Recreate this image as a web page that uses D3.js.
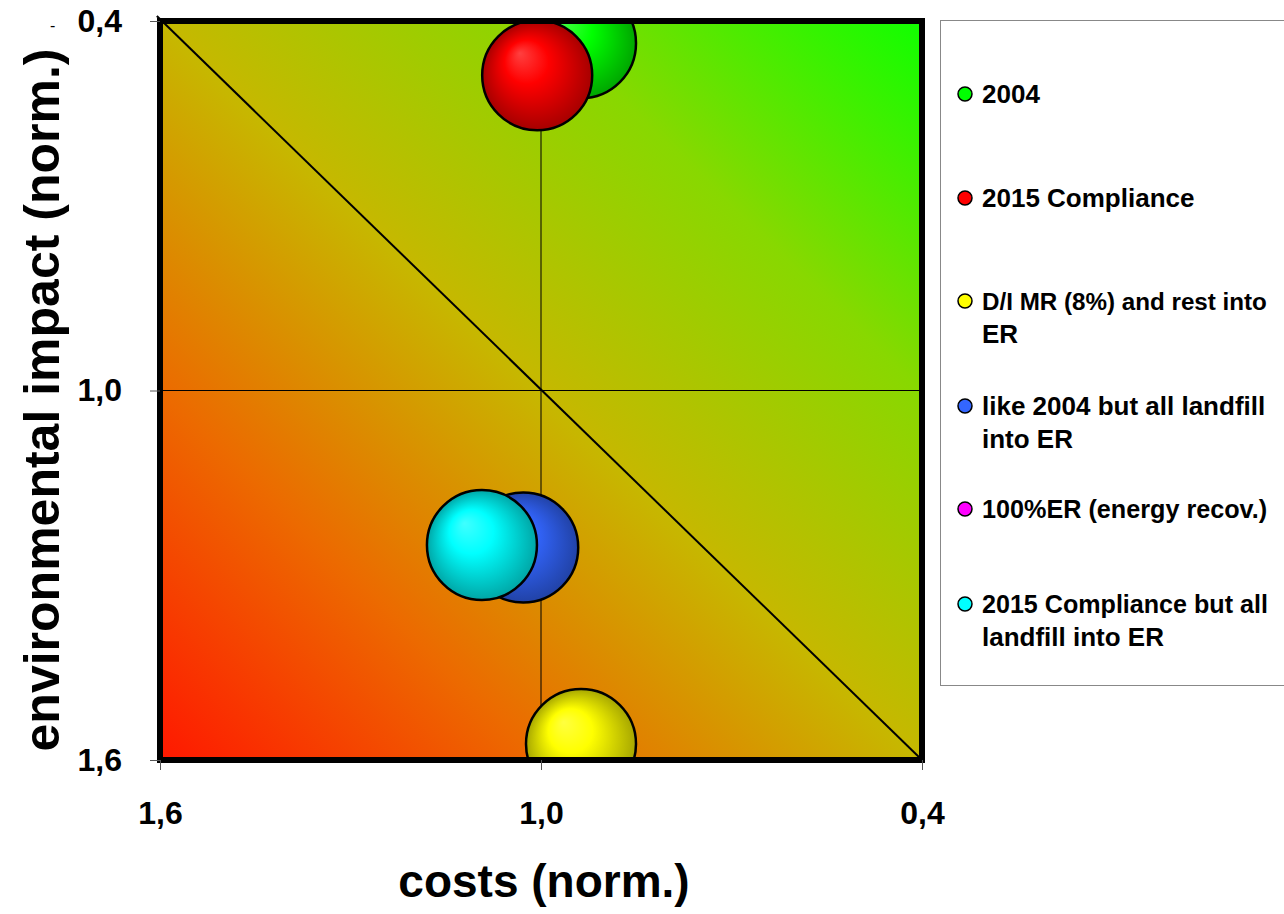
<!DOCTYPE html>
<html>
<head>
<meta charset="utf-8">
<script src="https://cdn.jsdelivr.net/npm/d3@7"></script>
<style>
  html, body { margin: 0; padding: 0; background: #fff; }
  svg { display: block; font-family: "Liberation Sans", Arial, sans-serif; }
</style>
</head>
<body>
<svg id="chart" width="1284" height="914"></svg>
<script>
// ---- data ----
const series = ["2004", "2015 Compliance", "D/I MR (8%) and rest into ER", "like 2004 but all landfill into ER", "100% ER (energy recov.)", "2015 Compliance but all landfill into ER"];
const legendLines = [["2004"], ["2015 Compliance"], ["D/I MR (8%) and rest into", "ER"], ["like 2004 but all landfill", "into ER"], ["100%ER (energy recov.)"], ["2015 Compliance but all", "landfill into ER"]];
const costs  = [0.937, 1.006, 0.937, 1.028, 0.93, 1.093];
const impact = [0.436, 0.488, 1.574, 1.255, 1.80, 1.251];
const sizes  = [1, 1, 1, 1, 1, 1];
const colors = ["#00ff00", "#ff0000", "#ffff00", "#3366ff", "#ff00ff", "#00ffff"];
const xTicks = [1.6, 1.0, 0.4];
const yTicks = [0.4, 1.0, 1.6];
const xTickLabels = ["1,6", "1,0", "0,4"];
const yTickLabels = ["0,4", "1,0", "1,6"];
const diagonal = [[1.605, 0.392], [0.4, 1.6]];

// ---- layout ----
const svg = d3.select("#chart");
const L = 160, R = 922, T = 21, B = 760;
const x = d3.scaleLinear().domain([1.6, 0.4]).range([L, R]);
const y = d3.scaleLinear().domain([0.4, 1.6]).range([T, B]);
const r = d3.scaleSqrt().domain([0, 1]).range([0, 55]);

const defs = svg.append("defs");
const bg = defs.append("linearGradient").attr("id", "bg")
  .attr("x1", 0).attr("y1", 1).attr("x2", 1).attr("y2", 0);
[[0, "#ff1800"], [0.25, "#ec6a00"], [0.5, "#c6b800"], [0.75, "#88d800"], [1, "#10ff00"]]
  .forEach(([o, c]) => bg.append("stop").attr("offset", o).attr("stop-color", c));

defs.append("clipPath").attr("id", "plotclip")
  .append("rect").attr("x", L).attr("y", T).attr("width", R - L).attr("height", B - T);

colors.forEach((c, i) => {
  const g = defs.append("radialGradient").attr("id", "bub" + i)
    .attr("cx", 0.5).attr("cy", 0.5).attr("r", 0.5)
    .attr("fx", 0.34).attr("fy", 0.3);
  const base = d3.color(c);
  g.append("stop").attr("offset", 0).attr("stop-color", d3.interpolateRgb(c, "#ffffff")(0.25));
  g.append("stop").attr("offset", 0.4).attr("stop-color", c);
  g.append("stop").attr("offset", 1).attr("stop-color", base.darker(1.2));
});

// plot background
svg.append("rect").attr("x", L).attr("y", T).attr("width", R - L).attr("height", B - T)
  .attr("fill", "url(#bg)");

// gridlines at 1.0
svg.append("line").attr("x1", x(1.0)).attr("x2", x(1.0)).attr("y1", T).attr("y2", B)
  .attr("stroke", "#000").attr("stroke-width", 1);
svg.append("line").attr("x1", L).attr("x2", R).attr("y1", y(1.0)).attr("y2", y(1.0))
  .attr("stroke", "#000").attr("stroke-width", 1);

// diagonal
svg.append("path").datum(diagonal)
  .attr("d", d3.line().x(d => x(d[0])).y(d => y(d[1])))
  .attr("stroke", "#000").attr("stroke-width", 2).attr("fill", "none");

// bubbles
const gB = svg.append("g").attr("clip-path", "url(#plotclip)");
series.forEach((s, i) => {
  gB.append("circle")
    .attr("cx", x(costs[i])).attr("cy", y(impact[i])).attr("r", r(sizes[i]))
    .attr("fill", `url(#bub${i})`).attr("stroke", "#000").attr("stroke-width", 2.5);
});

// frame
svg.append("rect").attr("x", L).attr("y", T).attr("width", R - L).attr("height", B - T)
  .attr("fill", "none").attr("stroke", "#000").attr("stroke-width", 6);

// axes
const xAxis = svg.append("g").attr("transform", `translate(0,${B})`)
  .call(d3.axisBottom(x).tickValues(xTicks).tickFormat((d, i) => xTickLabels[i]).tickSize(10).tickPadding(31));
const yAxis = svg.append("g").attr("transform", `translate(${L},0)`)
  .call(d3.axisLeft(y).tickValues(yTicks).tickFormat((d, i) => yTickLabels[i]).tickSize(10).tickPadding(28));
[xAxis, yAxis].forEach(a => {
  a.select(".domain").remove();
  a.selectAll(".tick line").attr("stroke", "#555");
  a.selectAll(".tick text").attr("font-size", 32).attr("font-weight", "bold")
    .attr("fill", "#000").attr("font-family", "'Liberation Sans', Arial, sans-serif");
});

// stray dash
svg.append("text").attr("x", 50).attr("y", 31).attr("font-size", 16).text("-");

// axis titles
svg.append("text").attr("x", 544).attr("y", 897).attr("text-anchor", "middle")
  .attr("font-size", 46).attr("font-weight", "bold").text("costs (norm.)");
svg.append("text").attr("transform", "translate(59,400) rotate(-90)").attr("text-anchor", "middle")
  .attr("font-size", 50).attr("font-weight", "bold").text("environmental impact (norm.)");

// legend
svg.append("rect").attr("x", 940.5).attr("y", 20.5).attr("width", 360).attr("height", 665)
  .attr("fill", "#fff").attr("stroke", "#888").attr("stroke-width", 1);
const legY = [103, 207, 310, 415, 518, 613];
const maxW = 286;
legendLines.forEach((lines, i) => {
  svg.append("circle").attr("cx", 965).attr("cy", legY[i] - 9).attr("r", 7)
    .attr("fill", colors[i]).attr("stroke", "#000").attr("stroke-width", 1.5);
  lines.forEach((t, j) => {
    const tx = svg.append("text").attr("x", 982).attr("y", legY[i] + j * 33)
      .attr("font-size", 26).attr("font-weight", "bold").attr("fill", "#000").text(t);
    const w = tx.node().getComputedTextLength();
    if (w > maxW) tx.attr("font-size", Math.floor(26 * maxW / w * 10) / 10);
  });
});
</script>
</body>
</html>
